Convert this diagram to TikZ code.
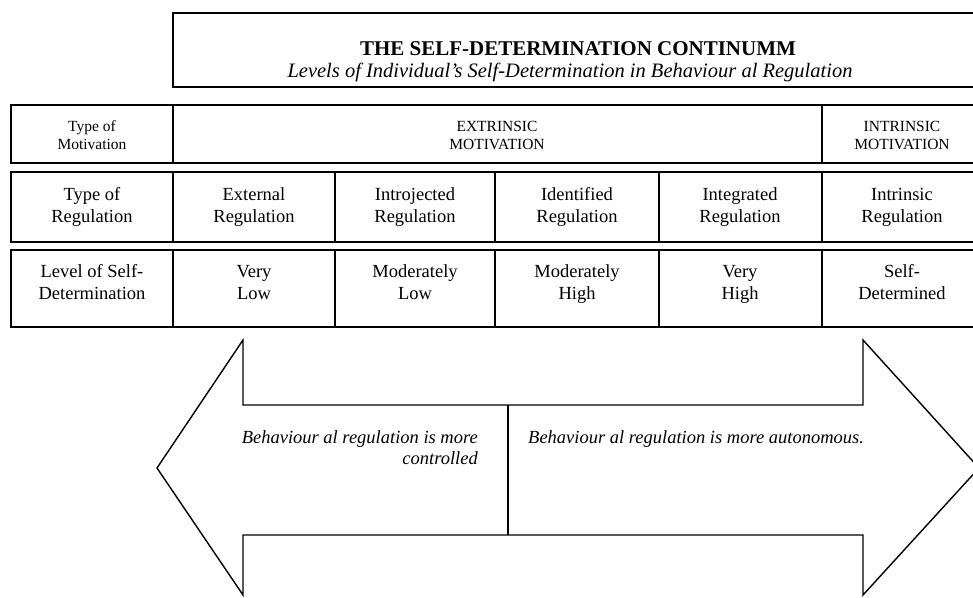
\documentclass[tikz,border=0pt]{standalone}
\usepackage{fontspec}
\setmainfont{Liberation Serif}
\newcommand\twolines[2]{\strut #1\\\strut #2}
\begin{document}
\begin{tikzpicture}[x=1pt,y=-1pt,
  gridline/.style={draw=black, line width=1.5pt},
  titleline/.style={draw=black, line width=2pt},
  arrowline/.style={draw=black, line width=1.4pt, line join=miter},
  hdr/.style={inner sep=0pt, align=center, font=\fontsize{15.5}{18}\selectfont},
  celltext/.style={inner sep=0pt, align=center, font=\fontsize{18.5}{22.5}\selectfont},
  arrowtext/.style={inner sep=0pt, font=\fontsize{18.5}{21}\selectfont\itshape}
]
\useasboundingbox (0,0) rectangle (973,597);

% title box
\draw[titleline] (173,13) rectangle (995,87);
\node[inner sep=0pt, anchor=base, font=\fontsize{21}{24}\selectfont\bfseries] (title) at (578,55) {THE SELF-DETERMINATION CONTINUMM};
\node[inner sep=0pt, anchor=base, font=\fontsize{20.5}{24}\selectfont\itshape] (subtitle) at (570,77) {Levels of Individual’s Self-Determination in Behaviour al Regulation};

% row 1
\draw[gridline] (11,105) rectangle (173,163);
\draw[gridline] (173,105) rectangle (822,163);
\draw[gridline] (822,105) rectangle (982,163);
\node[hdr] (m1) at (92,137) {\twolines{Type of}{Motivation}};
\node[hdr] (m2) at (497,137) {\twolines{EXTRINSIC}{MOTIVATION}};
\node[hdr] (m3) at (902,137) {\twolines{INTRINSIC}{MOTIVATION}};

% rows 2 and 3
\foreach \a/\b in {11/173,173/335,335/495,495/659,659/822,822/982}{
  \draw[gridline] (\a,172) rectangle (\b,242);
  \draw[gridline] (\a,250) rectangle (\b,327);
}
\node[celltext] (r1) at (92,207) {\twolines{Type of}{Regulation}};
\node[celltext] (r2) at (254,207) {\twolines{External}{Regulation}};
\node[celltext] (r3) at (415,207) {\twolines{Introjected}{Regulation}};
\node[celltext] (r4) at (577,207) {\twolines{Identified}{Regulation}};
\node[celltext] (r5) at (740,207) {\twolines{Integrated}{Regulation}};
\node[celltext] (r6) at (902,207) {\twolines{Intrinsic}{Regulation}};

\node[celltext] (l1) at (92,284) {\twolines{Level of Self-}{Determination}};
\node[celltext] (l2) at (254,284) {\twolines{Very}{Low}};
\node[celltext] (l3) at (415,284) {\twolines{Moderately}{Low}};
\node[celltext] (l4) at (577,284) {\twolines{Moderately}{High}};
\node[celltext] (l5) at (740,284) {\twolines{Very}{High}};
\node[celltext] (l6) at (902,284) {\twolines{Self-}{Determined}};

% double arrow
\coordinate (ltip) at (157,468);
\coordinate (rtip) at (979,468);
\draw[arrowline] (ltip) -- (243,340) -- (243,405) -- (863,405) -- (863,340) -- (rtip)
  -- (863,595) -- (863,535) -- (243,535) -- (243,595) -- cycle;
\coordinate (divtop) at (508,405);
\coordinate (divbot) at (508,535);
\draw[arrowline] (divtop) -- (divbot);

\node[arrowtext, align=right, anchor=east] (lefttext) at (478,448) {Behaviour al regulation is more\\controlled};
\node[arrowtext, anchor=base west] (righttext) at (528,443) {Behaviour al regulation is more autonomous.};
\end{tikzpicture}
\end{document}
